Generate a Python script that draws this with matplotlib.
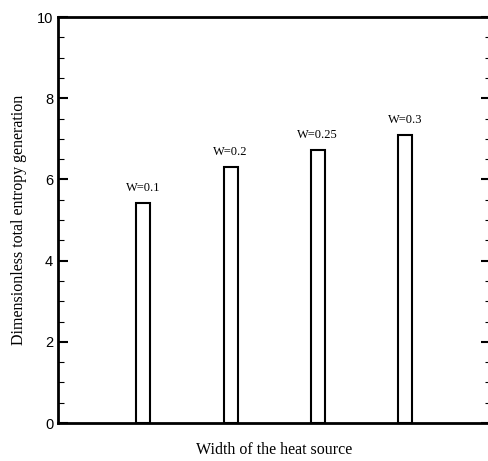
import matplotlib.pyplot as plt
from matplotlib.ticker import MultipleLocator

labels = ['W=0.1', 'W=0.2', 'W=0.25', 'W=0.3']
values = [5.42, 6.30, 6.72, 7.10]
positions = [1, 2, 3, 4]

serif = ['Liberation Serif', 'DejaVu Serif']
sans = ['Liberation Sans', 'DejaVu Sans']

fig = plt.figure(figsize=(4.89, 4.61), dpi=100)
# right spine falls just outside the picture, as in the original
ax = fig.add_axes([0.1186, 0.0824, 0.886, 0.8807])

bars = ax.bar(positions, values, width=0.16, facecolor='white',
              edgecolor='black', linewidth=1.5)
for x, v, lab in zip(positions, values, labels):
    ax.text(x, v + 0.22, lab, ha='center', va='bottom',
            family=serif, fontsize=9)

ax.set_xlim(0.02, 4.99)
ax.set_ylim(0, 10)
ax.yaxis.set_major_locator(MultipleLocator(2))
ax.yaxis.set_minor_locator(MultipleLocator(0.5))
ax.set_xticks([])
ax.tick_params(axis='y', which='both', direction='in', left=True, right=True,
               labelsize=10.5)
ax.tick_params(axis='y', which='major', length=7, width=1.5)
ax.tick_params(axis='y', which='minor', length=4, width=0.8)
for t in ax.get_yticklabels():
    t.set_family(sans)

for s in ax.spines.values():
    s.set_linewidth(2)

ax.set_xlabel('Width of the heat source', family=serif, fontsize=11.5,
              labelpad=14)
ax.set_ylabel('Dimensionless total entropy generation', family=serif,
              fontsize=11.5, labelpad=7)

fig.savefig('out.png', dpi=100)
